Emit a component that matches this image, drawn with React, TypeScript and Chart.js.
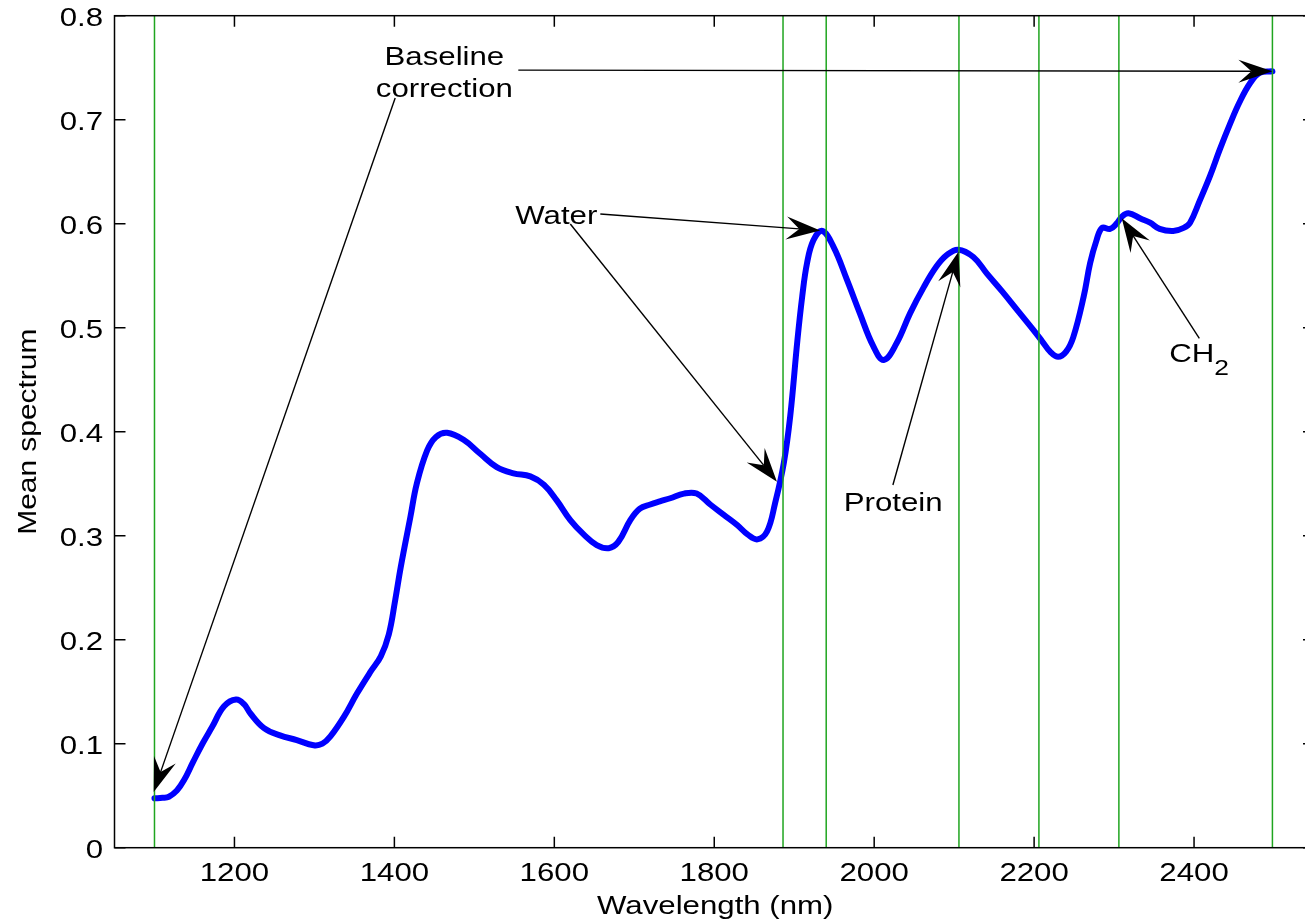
import React, { useEffect, useRef } from 'react';
import { Chart, registerables } from 'chart.js';

Chart.register(...registerables);

// ---------- data ----------
const wavelengths = [
  1100, 1110, 1118, 1128, 1137, 1148, 1160, 1172, 1187, 1202, 1212, 1220, 1237, 1257, 1278, 1299,
  1310, 1320, 1337, 1353, 1370, 1383, 1393, 1401, 1408, 1420, 1428, 1441, 1452, 1466, 1487, 1507,
  1528, 1549, 1570, 1587, 1603, 1620, 1637, 1653, 1668, 1680, 1695, 1707, 1720, 1732, 1745, 1762,
  1778, 1795, 1812, 1829, 1842, 1854, 1866, 1876, 1887, 1895, 1904, 1910, 1916, 1924, 1935, 1949,
  1966, 1982, 1999, 2012, 2028, 2045, 2062, 2078, 2091, 2105, 2124, 2141, 2160, 2180, 2200, 2210,
  2220, 2230, 2240, 2249, 2262, 2270, 2278, 2285, 2295, 2303, 2310, 2318, 2333, 2345, 2357, 2374,
  2387, 2395, 2407, 2420, 2432, 2445, 2457, 2470, 2482, 2498,
];
const meanSpectrum = [
  0.0475, 0.048, 0.049, 0.055, 0.065, 0.082, 0.1, 0.116, 0.136, 0.1425, 0.138, 0.129, 0.115, 0.108, 0.1035, 0.0985,
  0.1, 0.107, 0.126, 0.148, 0.169, 0.184, 0.205, 0.238, 0.27, 0.318, 0.35, 0.382, 0.395, 0.399, 0.392, 0.379,
  0.366, 0.36, 0.357, 0.349, 0.334, 0.315, 0.301, 0.291, 0.288, 0.294, 0.315, 0.326, 0.33, 0.333, 0.336, 0.3405,
  0.3405, 0.33, 0.32, 0.31, 0.301, 0.2965, 0.304, 0.331, 0.37, 0.415, 0.488, 0.53, 0.562, 0.584, 0.593, 0.578,
  0.546, 0.514, 0.482, 0.469, 0.485, 0.514, 0.539, 0.559, 0.57, 0.575, 0.568, 0.552, 0.535, 0.516, 0.497, 0.487,
  0.477, 0.472, 0.477, 0.491, 0.53, 0.562, 0.584, 0.596, 0.595, 0.6, 0.607, 0.61, 0.605, 0.601, 0.595, 0.593,
  0.596, 0.601, 0.622, 0.646, 0.671, 0.696, 0.717, 0.735, 0.745, 0.7465,
];
const bandLines = [1100, 1886, 1940, 2106, 2206, 2306, 2498];

const xTickValues = [1200, 1400, 1600, 1800, 2000, 2200, 2400];
const xTickLabels = ['1200', '1400', '1600', '1800', '2000', '2200', '2400'];
const yTickValues = [0, 0.1, 0.2, 0.3, 0.4, 0.5, 0.6, 0.7, 0.8];
const yTickLabels = ['0', '0.1', '0.2', '0.3', '0.4', '0.5', '0.6', '0.7', '0.8'];

const xTitle = 'Wavelength (nm)';
const yTitle = 'Mean spectrum';

// annotations in data coordinates
const arrowFrom = [
  [1555, 0.7477],
  [1401, 0.7209],
  [1657.5, 0.6093],
  [1620, 0.5997],
  [2023.4, 0.3488],
  [2406.6, 0.4898],
];
const arrowTo = [
  [2498, 0.7465],
  [1099, 0.0536],
  [1932.5, 0.5935],
  [1878.4, 0.3519],
  [2105.4, 0.5731],
  [2309.6, 0.6052],
];
const noteTexts = ['Baseline', 'correction', 'Water', 'Protein'];
const notePos = [
  [1462.5, 0.7526],
  [1462.5, 0.7218],
  [1602.5, 0.5997],
  [2023.75, 0.3238],
];
const ch2Pos = [2369, 0.4673];

// ---------- layout ----------
const W = 1330;
const H = 922;
const AREA_LEFT = 114.5;
const AREA_RIGHT = 1314;
const AREA_TOP = 15.7;
const AREA_BOTTOM = 847.7;
const FONT = '"Liberation Sans", Arial, Helvetica, sans-serif';
const SX = 1.2;

function drawText(
  ctx: CanvasRenderingContext2D,
  text: string,
  x: number,
  y: number,
  size: number,
  align: CanvasTextAlign,
  sx = SX,
  rot = 0,
) {
  ctx.save();
  ctx.translate(x, y);
  if (rot) ctx.rotate(rot);
  ctx.scale(sx, 1);
  ctx.font = `${size}px ${FONT}`;
  ctx.fillStyle = '#000';
  ctx.textAlign = align;
  ctx.textBaseline = 'alphabetic';
  ctx.fillText(text, 0, 0);
  ctx.restore();
}

function drawArrow(ctx: CanvasRenderingContext2D, x1: number, y1: number, x2: number, y2: number) {
  const dx = x2 - x1;
  const dy = y2 - y1;
  const len = Math.hypot(dx, dy);
  const ux = dx / len;
  const uy = dy / len;
  const nx = -uy;
  const ny = ux;
  const L = 34;
  const notch = 21;
  const w = 11.5;
  ctx.save();
  ctx.strokeStyle = '#000';
  ctx.fillStyle = '#000';
  ctx.lineWidth = 1.4;
  ctx.beginPath();
  ctx.moveTo(x1, y1);
  ctx.lineTo(x2 - ux * notch, y2 - uy * notch);
  ctx.stroke();
  ctx.beginPath();
  ctx.moveTo(x2, y2);
  ctx.lineTo(x2 - ux * L + nx * w, y2 - uy * L + ny * w);
  ctx.lineTo(x2 - ux * notch, y2 - uy * notch);
  ctx.lineTo(x2 - ux * L - nx * w, y2 - uy * L - ny * w);
  ctx.closePath();
  ctx.fill();
  ctx.restore();
}

const decorPlugin = {
  id: 'decor',
  afterDraw(chart: any) {
    const ctx: CanvasRenderingContext2D = chart.ctx;
    const { left, right, top, bottom } = chart.chartArea;
    const xs = chart.scales.x;
    const ys = chart.scales.y;

    // frame
    ctx.save();
    ctx.strokeStyle = '#000';
    ctx.lineWidth = 1.5;
    ctx.strokeRect(left, top, right - left, bottom - top);
    // inward ticks
    const TL = 11;
    ctx.beginPath();
    xTickValues.forEach((v) => {
      const px = xs.getPixelForValue(v);
      ctx.moveTo(px, bottom);
      ctx.lineTo(px, bottom - TL);
      ctx.moveTo(px, top);
      ctx.lineTo(px, top + TL);
    });
    yTickValues.forEach((v) => {
      const py = ys.getPixelForValue(v);
      ctx.moveTo(left, py);
      ctx.lineTo(left + TL, py);
      ctx.moveTo(right, py);
      ctx.lineTo(right - TL, py);
    });
    ctx.stroke();
    ctx.restore();

    // tick labels
    xTickValues.forEach((v, i) => {
      drawText(ctx, xTickLabels[i], xs.getPixelForValue(v), bottom + 33, 26, 'center');
    });
    yTickValues.forEach((v, i) => {
      drawText(ctx, yTickLabels[i], left - 11.5, ys.getPixelForValue(v) + 10, 26, 'right');
    });

    // axis titles
    drawText(ctx, xTitle, (left + right) / 2 + 1, 914, 26, 'center');
    drawText(ctx, yTitle, 36, (top + bottom) / 2, 26, 'center', 1.15, -Math.PI / 2);

    // arrows
    arrowFrom.forEach((f, i) => {
      const t = arrowTo[i];
      drawArrow(
        ctx,
        xs.getPixelForValue(f[0]),
        ys.getPixelForValue(f[1]),
        xs.getPixelForValue(t[0]),
        ys.getPixelForValue(t[1]),
      );
    });

    // notes
    noteTexts.forEach((t, i) => {
      drawText(ctx, t, xs.getPixelForValue(notePos[i][0]), ys.getPixelForValue(notePos[i][1]), 26, 'center');
    });
    const chx = xs.getPixelForValue(ch2Pos[0]);
    const chy = ys.getPixelForValue(ch2Pos[1]);
    drawText(ctx, 'CH', chx, chy, 26, 'left');
    ctx.save();
    ctx.font = `26px ${FONT}`;
    const chw = ctx.measureText('CH').width * SX;
    ctx.restore();
    drawText(ctx, '2', chx + chw, chy + 13, 22, 'left');
  },
};

export default function App() {
  const ref = useRef<HTMLCanvasElement | null>(null);

  useEffect(() => {
    document.body.style.margin = '0';
    document.body.style.overflow = 'hidden';
    const canvas = ref.current;
    if (!canvas) return;

    const spectrum = wavelengths.map((x, i) => ({ x, y: meanSpectrum[i] }));
    const greenSets = bandLines.map((b) => ({
      data: [
        { x: b, y: 0 },
        { x: b, y: 0.8 },
      ],
      borderColor: '#1fa51f',
      borderWidth: 1.5,
      pointRadius: 0,
      tension: 0,
      order: 0,
    }));

    const chart = new Chart(canvas, {
      type: 'line',
      data: {
        datasets: [
          ...greenSets,
          {
            data: spectrum,
            borderColor: '#0000ff',
            borderWidth: 6,
            pointRadius: 0,
            tension: 0.4,
            borderCapStyle: 'round',
            borderJoinStyle: 'round',
            order: 1,
          },
        ] as any,
      },
      options: {
        responsive: false,
        animation: false,
        devicePixelRatio: 1,
        layout: { padding: { left: 0, top: AREA_TOP, right: W - AREA_RIGHT, bottom: 0 } },
        plugins: { legend: { display: false }, tooltip: { enabled: false } },
        scales: {
          x: {
            type: 'linear',
            min: 1050,
            max: 2550,
            grid: { display: false },
            border: { display: false },
            ticks: { display: false },
            afterFit: (s: any) => {
              s.height = H - AREA_BOTTOM;
            },
          },
          y: {
            type: 'linear',
            min: 0,
            max: 0.8,
            grid: { display: false },
            border: { display: false },
            ticks: { display: false },
            afterFit: (s: any) => {
              s.width = AREA_LEFT;
            },
          },
        },
      } as any,
      plugins: [decorPlugin],
    });

    return () => chart.destroy();
  }, []);

  return (
    <div style={{ position: 'fixed', left: 0, top: 0, width: W, height: H, overflow: 'hidden', background: '#fff' }}>
      <canvas ref={ref} width={W} height={H} style={{ display: 'block', width: W, height: H }} />
    </div>
  );
}
